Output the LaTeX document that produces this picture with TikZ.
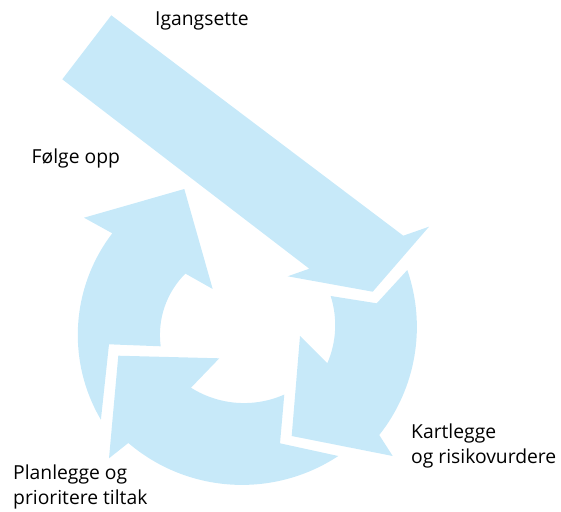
\documentclass[tikz,border=0pt]{standalone}
\usepackage{fontspec}
\setmainfont{Open Sans}
\definecolor{cyclefill}{RGB}{199,233,249}

\begin{document}
\begin{tikzpicture}[x=1pt,y=-1pt,
    arrowshape/.style={fill=cyclefill,draw=none},
    steplabel/.style={anchor=base west,inner sep=0pt,align=left,font=\fontsize{19.3}{25}\selectfont}]
	  \useasboundingbox (0,0) rectangle (561,511);

	  % entry arrow coming in from the top left
	  \path[arrowshape] (111.3,15.3) -- (403.3,235.7) -- (429,226.7) -- (372.7,291.7)
	      -- (287.7,276.3) -- (309.3,268.7) -- (62.3,79.3) -- cycle;

	  % cycle: left arrow (pointing up)
	  \path[arrowshape] (112.3,233.3) arc[start angle=217.5,end angle=149.5,radius=167]
	      -- (109,344.3) -- (160.7,346.3) arc[start angle=172.4,end angle=225.1,radius=86.5]
	      -- (212.7,289) -- (184.3,189) -- (84,217.7) -- cycle;

	  % cycle: right arrow (pointing down)
	  \path[arrowshape] (407.3,270) arc[start angle=-19.1,end angle=38.4,radius=174]
	      -- (392.7,456) -- (291.7,436) -- (300,336)
	      -- (327.3,363.3) arc[start angle=23.4,end angle=-17.7,radius=96]
	      -- (376.7,303.3) -- cycle;

	  % cycle: bottom arrow (pointing left)
	  \path[arrowshape] (338.3,456) arc[start angle=56.6,end angle=130.5,radius=175]
	      -- (109,458.3) -- (118.3,355.7) -- (219.3,358.3)
	      -- (191,387.7) arc[start angle=122.3,end angle=66.1,radius=99.3]
	      -- (280,443.3) -- cycle;

	  % step labels (base = last line for the two-line ones)
	  \node[steplabel] (igangsette) at (155,26) {Igangsette};
	  \node[steplabel] (folgeopp) at (31.5,163.3) {Følge opp};
	  \node[steplabel] (kartlegge) at (411,463) {Kartlegge\\og risikovurdere};
	  \node[steplabel] (planlegge) at (13,504) {Planlegge og\\prioritere tiltak};

\end{tikzpicture}
\end{document}
